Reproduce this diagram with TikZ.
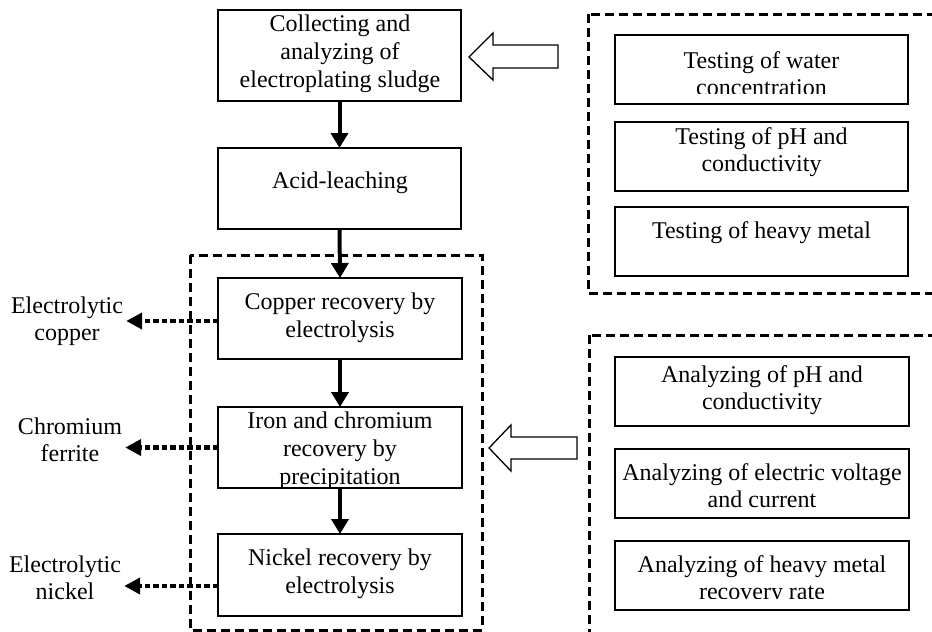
\documentclass[tikz,border=0pt]{standalone}
\usepackage{fontspec}
\setmainfont{Liberation Serif}
\usetikzlibrary{arrows.meta}
\begin{document}
\begin{tikzpicture}[x=1pt,y=-1pt,
  box/.style={draw, line width=2.6pt, rectangle, inner sep=0pt, outer sep=0pt},
  txt/.style={align=center, inner sep=0pt, font=\fontsize{24}{28}\selectfont},
  rtxt/.style={align=center, inner sep=0pt, font=\fontsize{24}{27}\selectfont},
  lab/.style={align=center, inner sep=3pt, font=\fontsize{24}{27.5}\selectfont},
  flow/.style={line width=4pt, -{Triangle[width=17pt,length=15pt]}},
  prod/.style={line width=4.2pt, dash pattern=on 5.5pt off 3pt, -{Triangle[width=16pt,length=16pt]}},
  group/.style={draw, line width=3pt, dash pattern=on 9pt off 5pt},
  hollow/.style={draw, line width=1.3pt, fill=white, line join=miter}]
\useasboundingbox (0,0) rectangle (932,632);
\clip (0,0) rectangle (932,632);

% dashed groups
\draw[group] (190,255) rectangle (482,630);
\draw[group] (588,14) rectangle (945,293);
\draw[group] (589,335) rectangle (945,650);

% texts of the left column
\node[txt] (tcoll) at (340,53.5) {Collecting and\\analyzing of\\electroplating sludge};
\node[txt] (tacid) at (340,183) {Acid-leaching};
\node[txt] (tcopper) at (340,317.5) {Copper recovery by\\electrolysis};
\begin{scope}
\clip (218,407) rectangle (462,488);
\node[txt] (tiron) at (340,450.5) {Iron and chromium\\recovery by\\precipitation};
\end{scope}
\node[txt] (tnickel) at (340,574) {Nickel recovery by\\electrolysis};

% texts of the right groups
\begin{scope}
\clip (615,35) rectangle (908,93);
\node[rtxt] (tta) at (761.5,74) {Testing of water\\concentration};
\end{scope}
\node[rtxt] (ttb) at (761.5,152.5) {Testing of pH and\\conductivity};
\node[rtxt] (ttc) at (761.5,233) {Testing of heavy metal};
\node[rtxt] (taa) at (762,390) {Analyzing of pH and\\conductivity};
\node[rtxt] (tab) at (762,486) {Analyzing of electric voltage\\and current};
\begin{scope}
\clip (615,541) rectangle (909,598);
\node[rtxt] (tac) at (762,580.5) {Analyzing of heavy metal\\recovery rate};
\end{scope}

% boxes
\node[box, minimum width=243pt, minimum height=91pt] (coll) at (339.5,55.5) {};
\node[box, minimum width=243pt, minimum height=81pt] (acid) at (339.5,188.5) {};
\node[box, minimum width=244pt, minimum height=81pt] (copper) at (340,318.5) {};
\node[box, minimum width=244pt, minimum height=81pt] (iron) at (340,447.5) {};
\node[box, minimum width=244pt, minimum height=82pt] (nickel) at (340,575) {};
\node[box, minimum width=293pt, minimum height=69pt] (ta) at (761.5,69.5) {};
\node[box, minimum width=293pt, minimum height=69pt] (tb) at (761.5,156.5) {};
\node[box, minimum width=293pt, minimum height=69pt] (tc) at (761.5,241.5) {};
\node[box, minimum width=294pt, minimum height=69pt] (aa) at (762,391.5) {};
\node[box, minimum width=294pt, minimum height=69pt] (ab) at (762,483.5) {};
\node[box, minimum width=294pt, minimum height=69pt] (ac) at (762,575.5) {};

% product labels
\node[lab] (labcu) at (67,321) {Electrolytic\\copper};
\node[lab] (labcr) at (70,440) {Chromium\\ferrite};
\node[lab] (labni) at (65,578) {Electrolytic\\nickel};

% main flow
\draw[flow] (coll.south) -- (acid.north);
\draw[flow] (acid.south) -- (copper.north);
\draw[flow] (copper.south) -- (iron.north);
\draw[flow] (iron.south) -- (nickel.north);

% products
\draw[prod] ([yshift=-2.5pt]copper.west) -- ([yshift=-2.5pt]copper.west -| labcu.east);
\draw[prod] (iron.west) -- (iron.west -| labcr.east);
\draw[prod] ([yshift=-11pt]nickel.west) -- ([yshift=-11pt]nickel.west -| labni.east);

% hollow arrows
\draw[hollow] (469,57) -- (493,33) -- (493,45) -- (558,45) -- (558,68) -- (493,68) -- (493,80) -- cycle;
\draw[hollow] (489,448) -- (511,425) -- (511,437) -- (577,437) -- (577,459) -- (511,459) -- (511,471) -- cycle;
\end{tikzpicture}
\end{document}
